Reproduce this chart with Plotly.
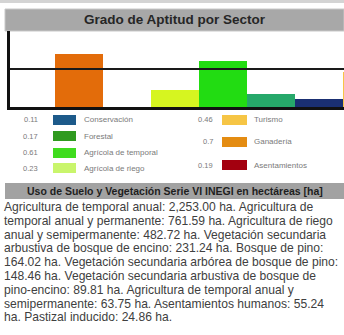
import plotly.graph_objects as go

# Aptitude index per sector (legend order: left column then right column)
sectors = ["Conservación", "Forestal", "Agrícola de temporal", "Agrícola de riego",
           "Turismo", "Ganadería", "Asentamientos"]
aptitude = [0.11, 0.17, 0.61, 0.23, 0.46, 0.7, 0.19]
legend_colors = ["#1d5a8a", "#2f9a1f", "#3fdc1e", "#c9f56c", "#f6c545", "#e48c12", "#a3000f"]

# Bar order along the x axis and the colour used for each bar
bar_order = ["Minería", "Ganadería", "Industria", "Agrícola de riego",
             "Agrícola de temporal", "Forestal", "Conservación", "Turismo", "Asentamientos"]
bar_colors = ["#888888", "#e36c0a", "#888888", "#d6f520", "#22dc12",
              "#26a86a", "#1a2f72", "#f6c545", "#a3000f"]
threshold = 0.5

# Land-use summary text
title_chart = "Grado de Aptitud por Sector"
title_text = "Uso de Suelo y Vegetación Serie VI INEGI en hectáreas [ha]"
paragraph = [
    "Agricultura de temporal anual: 2,253.00 ha. Agricultura de",
    "temporal anual y permanente: 761.59 ha. Agricultura de riego",
    "anual y semipermanente: 482.72 ha. Vegetación secundaria",
    "arbustiva de bosque de encino: 231.24 ha. Bosque de pino:",
    "164.02 ha. Vegetación secundaria arbórea de bosque de pino:",
    "148.46 ha. Vegetación secundaria arbustiva de bosque de",
    "pino-encino: 89.81 ha. Agricultura de temporal anual y",
    "semipermanente: 63.75 ha. Asentamientos humanos: 55.24",
    "ha. Pastizal inducido: 24.86 ha.",
]

W, H = 344, 335


def px(x):
    return x / W


def py(y):
    return 1 - y / H


value_of = dict(zip(sectors, aptitude))
bar_values = [value_of.get(s, 0.0) for s in bar_order]

fig = go.Figure()
fig.add_trace(go.Bar(
    x=bar_order, y=bar_values,
    marker=dict(color=bar_colors, line=dict(width=0)),
    hoverinfo="x+y",
))

shapes = []
annotations = []

# thin strip at the very top and the two grey header bands
shapes.append(dict(type="rect", xref="paper", yref="paper", x0=0, x1=1,
                   y0=py(3), y1=py(0), fillcolor="#d4d4d4", line=dict(width=0), layer="below"))
shapes.append(dict(type="rect", xref="paper", yref="paper", x0=px(5), x1=1,
                   y0=py(31), y1=py(9), fillcolor="#a8a8a8",
                   line=dict(color="#c8c8c8", width=1), layer="below"))
shapes.append(dict(type="rect", xref="paper", yref="paper", x0=px(5), x1=1,
                   y0=py(199), y1=py(183), fillcolor="#a2a2a2", line=dict(width=0), layer="below"))

annotations.append(dict(text="<b>" + title_chart + "</b>", xref="paper", yref="paper",
                        x=px(175), y=py(20), showarrow=False, xanchor="center", yanchor="middle",
                        font=dict(family="Liberation Sans", size=13.5, color="#262626")))
annotations.append(dict(text="<b>" + title_text + "</b>", xref="paper", yref="paper",
                        x=px(175), y=py(191), showarrow=False, xanchor="center", yanchor="middle",
                        font=dict(family="Liberation Sans", size=10.5, color="#1e1e1e")))

# threshold line across the chart
shapes.append(dict(type="line", xref="paper", yref="y", x0=px(10), x1=1,
                   y0=threshold, y1=threshold, line=dict(color="#1a1a1a", width=2)))

# custom legend: value, swatch, label in two columns
left_rows = [120, 136, 153, 168]
right_rows = [120, 142, 165]
slots = [(r, 40, 53, 76, 82) for r in left_rows] + [(r, 215, 222, 247, 252) for r in right_rows]
for (row, vx, s0, s1, lx), name, val, col in zip(slots, sectors, aptitude, legend_colors):
    shapes.append(dict(type="rect", xref="paper", yref="paper", x0=px(s0), x1=px(s1),
                       y0=py(row + 5), y1=py(row - 5), fillcolor=col, line=dict(width=0)))
    annotations.append(dict(text=f"{val:g}", xref="paper", yref="paper", x=px(vx), y=py(row),
                            showarrow=False, xanchor="right", yanchor="middle",
                            font=dict(family="Liberation Sans", size=7.5, color="#7a7a7a")))
    annotations.append(dict(text=name, xref="paper", yref="paper", x=px(lx), y=py(row),
                            showarrow=False, xanchor="left", yanchor="middle",
                            font=dict(family="Liberation Sans", size=8, color="#7a7a7a")))

# paragraph of land-use figures
for i, line in enumerate(paragraph):
    annotations.append(dict(text=line, xref="paper", yref="paper", x=px(2), y=py(207 + 13.8 * i),
                            showarrow=False, xanchor="left", yanchor="middle",
                            font=dict(family="Liberation Sans", size=12.1, color="#404040")))

fig.update_layout(
    width=W, height=H,
    margin=dict(l=0, r=0, t=0, b=0),
    paper_bgcolor="white", plot_bgcolor="white",
    showlegend=False, bargap=0,
    xaxis=dict(domain=[px(10), 1], range=[-0.44, 6.52], showticklabels=False, ticks="",
               showgrid=False, zeroline=False, showline=True, linecolor="#111111", linewidth=3),
    yaxis=dict(domain=[py(107), py(31)], range=[0, 1], showticklabels=False, ticks="",
               showgrid=False, zeroline=False, showline=True, linecolor="#111111", linewidth=3),
    shapes=shapes, annotations=annotations,
)

fig.write_html("out.html")
